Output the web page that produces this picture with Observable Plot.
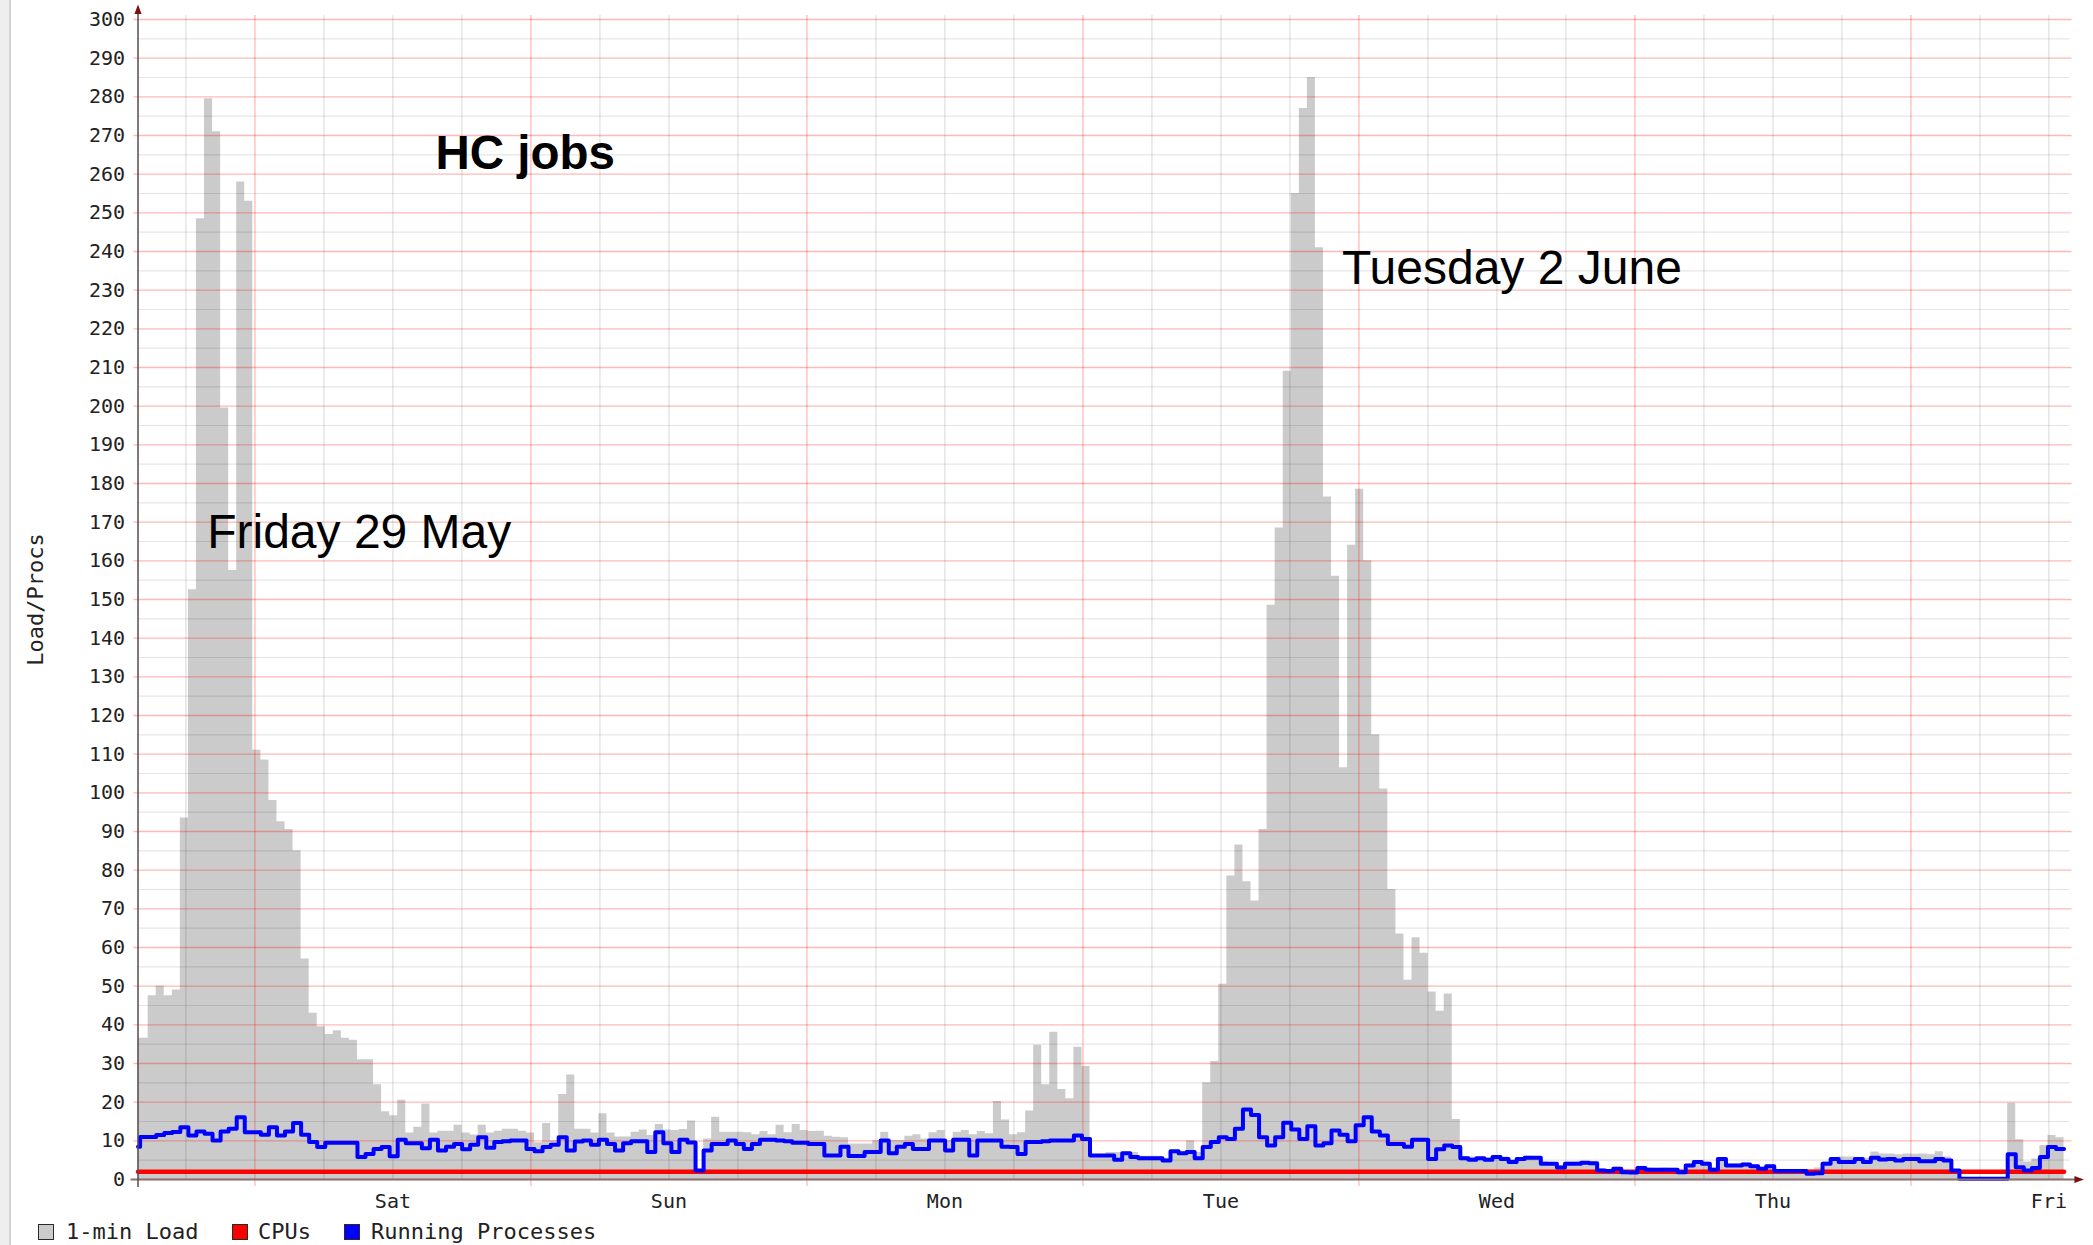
<!DOCTYPE html>
<html>
<head>
<meta charset="utf-8">
<script src="https://cdn.jsdelivr.net/npm/d3@7"></script>
<script src="https://cdn.jsdelivr.net/npm/@observablehq/plot@0.6"></script>
<style>
  html, body { margin: 0; padding: 0; background: #fff; }
  #wrap { position: relative; width: 2093px; height: 1245px; overflow: hidden; background: #fff; }
  #strip { position: absolute; left: 0; top: 0; width: 9px; height: 1245px; background: #eeeeee; border-right: 2px solid #d4d4d4; z-index: 2; }
  #chart { position: absolute; left: 0; top: 0; }
  #legend { position: absolute; left: 0; top: 1218px; width: 2093px; height: 27px;
            font-family: "DejaVu Sans Mono", monospace; font-size: 22px; color: #222; }
  .sw { position: absolute; top: 6px; width: 14px; height: 14px; border: 1.5px solid #2a2a2a; }
  .lt { position: absolute; top: 0; line-height: 28px; white-space: pre; }
</style>
</head>
<body>
<div id="wrap">
  <div id="strip"></div>
  <div id="chart"></div>
  <div id="legend"></div>
</div>
<script>
// ---------------- data ----------------
// One value per 42-minute RRD slot; the first entry is the partial slot at the left edge.
const load1min = [
  36.5, 36.5, 47.5, 50, 47.5, 49, 93.5, 152.5, 248.5, 279.5,
  271, 199.5, 157.5, 258, 253, 111, 108.5, 98, 92.5, 90.5,
  85, 57, 43, 39.5, 37.5, 38.5, 36.5, 36, 31, 31,
  24.5, 17.5, 16.5, 20.5, 12, 13.5, 19.5, 12, 12.5, 12.5,
  14, 12, 11.5, 14, 12, 12.5, 13, 13, 12.5, 12,
  9.5, 14.5, 10, 22, 27, 13, 13, 12, 17, 12,
  11, 11, 12.2, 12.8, 11.4, 14.2, 12.8, 12.7, 12.9, 15.1,
  2.5, 10.5, 16.1, 12.2, 12.2, 12.2, 12.1, 11.6, 12.4, 11.6,
  14, 12.1, 14.2, 12.7, 12.4, 12.5, 11.2, 10.9, 10.8, 9.2,
  9.2, 9.2, 10, 12.2, 10.1, 10.1, 11.2, 11.6, 10.5, 12.1,
  12.7, 10.1, 12.2, 12.7, 11.6, 12.4, 11.8, 20.2, 15.4, 11.6,
  12.1, 17.7, 34.7, 24.5, 38.1, 23.3, 20.9, 34.2, 29.2, 6,
  6, 7, 7, 7.2, 7, 6, 6, 6, 5.5, 7.5,
  7.2, 10, 7, 25, 30.5, 50.5, 78.5, 86.5, 77, 72,
  90.5, 148.5, 168.5, 209, 255, 277, 285, 241, 176.5, 156,
  106.5, 164, 178.5, 160, 115, 101, 75, 63.5, 51.5, 62.5,
  58.5, 48.5, 43.5, 48, 15.5, 6, 5.8, 5.8, 5.6, 6,
  5.8, 5.2, 5.6, 6, 5.8, 4.6, 4.4, 3.6, 4.5, 4.5,
  4.6, 4.5, 2.8, 2.6, 3.2, 2.4, 2.2, 3.4, 3, 2.9,
  3, 2.9, 2.4, 4, 4.9, 4.5, 3, 5.7, 4, 4,
  4.3, 3.8, 3.2, 3.8, 2.5, 2.4, 2.4, 2.4, 2.5, 3,
  4.5, 5.5, 5.8, 5.8, 5.5, 5.5, 7.1, 6.6, 6.6, 6.4,
  6.6, 6.5, 6.6, 6.4, 7.2, 5.8, 2.5, 0.5, 0.5, 0.5,
  0.5, 0.5, 0.5, 19.7, 10.3, 4.5, 5.3, 8.8, 11.4, 10.8
];
const runningProcs = [
  8.5, 11, 11, 11.5, 12, 12.3, 13.5, 11.4, 12.4, 11.8,
  10.1, 12.4, 13.1, 16.1, 12.2, 12.2, 11.6, 13.5, 11.4, 12.4,
  14.6, 11.6, 9.7, 8.4, 9.5, 9.5, 9.5, 9.5, 5.8, 6.6,
  7.9, 8.4, 6, 10.3, 9.4, 9.4, 8.1, 10.3, 7.5, 8.5,
  9.2, 7.8, 9, 10.9, 8.2, 9.7, 9.9, 10.1, 10.1, 7.9,
  7.3, 8.4, 9, 10.9, 7.5, 9.8, 10.1, 9, 10.3, 9.2,
  7.5, 9.4, 9.9, 9.9, 7.1, 12.2, 9.4, 7.1, 10.3, 9.6,
  2.3, 7.5, 9.2, 9.2, 10.1, 9.2, 7.9, 9.2, 10.3, 10.3,
  10.1, 9.9, 9.5, 9.5, 9.2, 9.2, 6.2, 6.2, 8.5, 6.1,
  6.1, 7.1, 7.1, 10.1, 6.8, 8.5, 9.2, 7.9, 7.9, 10.1,
  10.1, 7.5, 10.3, 10.3, 6.2, 10.1, 10.1, 10.1, 8.5, 8.4,
  6.6, 9.7, 9.7, 9.9, 10.1, 10.1, 10.1, 11.4, 10.5, 6.2,
  6.2, 6.2, 5.1, 6.8, 5.8, 5.5, 5.5, 5.5, 4.9, 7.3,
  6.8, 7.1, 5.5, 8.4, 9.7, 10.9, 10.5, 13.1, 18.1, 16.7,
  10.9, 8.8, 10.9, 14.7, 12.9, 10.5, 13.8, 8.8, 9.4, 12.7,
  11.6, 9.9, 14, 16.1, 12.4, 11.4, 9.2, 9.2, 8.5, 10.3,
  10.3, 5.3, 7.8, 8.8, 8.4, 5.5, 5.1, 5.5, 5.1, 5.8,
  5.3, 4.5, 5.3, 5.6, 5.6, 4.1, 4.1, 3.1, 4.1, 4.1,
  4.3, 4.2, 2.3, 2.2, 2.8, 1.9, 1.8, 3, 2.5, 2.5,
  2.5, 2.5, 1.9, 3.6, 4.5, 4.1, 2.5, 5.3, 3.6, 3.6,
  3.9, 3.4, 2.8, 3.4, 2.2, 2.2, 2.2, 2.2, 1.5, 1.6,
  4.1, 5.3, 4.5, 4.5, 5.3, 4.5, 5.6, 5.2, 5.3, 4.9,
  5.3, 5.3, 4.7, 4.7, 5.3, 4.9, 2.3, 0.2, 0.2, 0.2,
  0.2, 0.2, 0.2, 6.5, 3.2, 2.3, 3, 5.8, 8.4, 7.9
];
const cpuCount = [
  2,2,2,2,2,2,2,2,2,2, 2,2,2,2,2,2,2,2,2,2, 2,2,2,2,2,2,2,2,2,2,
  2,2,2,2,2,2,2,2,2,2, 2,2,2,2,2,2,2,2,2,2, 2,2,2,2,2,2,2,2,2,2,
  2,2,2,2,2,2,2,2,2,2, 2,2,2,2,2,2,2,2,2,2, 2,2,2,2,2,2,2,2,2,2,
  2,2,2,2,2,2,2,2,2,2, 2,2,2,2,2,2,2,2,2,2, 2,2,2,2,2,2,2,2,2,2,
  2,2,2,2,2,2,2,2,2,2, 2,2,2,2,2,2,2,2,2,2, 2,2,2,2,2,2,2,2,2,2,
  2,2,2,2,2,2,2,2,2,2, 2,2,2,2,2,2,2,2,2,2, 2,2,2,2,2,2,2,2,2,2,
  2,2,2,2,2,2,2,2,2,2, 2,2,2,2,2,2,2,2,2,2, 2,2,2,2,2,2,2,2,2,2,
  2,2,2,2,2,2,2,2,2,2, 2,2,2,2,2,2,2,2,2,2, 2,2,2,2,2,2,2,2,2,2
];
const dayLabels = ["Sat", "Sun", "Mon", "Tue", "Wed", "Thu", "Fri"];
const yTickValues = [0,10,20,30,40,50,60,70,80,90,100,110,120,130,140,150,160,170,180,190,200,210,220,230,240,250,260,270,280,290,300];
const annotationLabels = ["Friday 29 May", "HC jobs", "Tuesday 2 June"];
const annotationTimes = ["2015-05-29T07:51:00Z", "2015-05-30T03:42:00Z", "2015-06-02T10:32:00Z"];
const annotationValues = [163.4, 261.3, 231.6];
const legendLabels = ["1-min Load", "CPUs", "Running Processes"];
const yTitle = "Load/Procs";

// ---------------- time frame ----------------
const domainStart = new Date("2015-05-29T01:50:00Z");
const domainEnd = new Date("2015-06-05T01:50:00Z");
const firstSlot = new Date("2015-05-29T02:01:00Z");
const slotMs = 42 * 60 * 1000;

const table = load1min.map((v, i) => ({
  t: i === 0 ? domainStart : new Date(+firstSlot + (i - 1) * slotMs),
  load: v, procs: runningProcs[i], cpus: cpuCount[i]
}));
const lastRow = table[table.length - 1];
table.push({...lastRow, t: new Date(+firstSlot + (load1min.length - 1) * slotMs)});

const midnights = d3.utcDay.range(domainStart, domainEnd);
const sixHours = d3.utcHour.every(6).range(domainStart, domainEnd);
const noonLines = sixHours.filter(d => d.getUTCHours() === 12);
const otherLines = sixHours.filter(d => d.getUTCHours() !== 12);
const yMinor = yTickValues.slice(0, -1).map(v => v + 5);
const notes = annotationLabels.map((label, i) => ({label, t: new Date(annotationTimes[i]), v: annotationValues[i]}));

const triUp = {draw(ctx, size) { const s = Math.sqrt(size) * 0.75; ctx.moveTo(0, -s); ctx.lineTo(-s * 0.6, s * 0.6); ctx.lineTo(s * 0.6, s * 0.6); ctx.closePath(); }};
const triRight = {draw(ctx, size) { const s = Math.sqrt(size) * 0.75; ctx.moveTo(s, 0); ctx.lineTo(-s * 0.6, -s * 0.6); ctx.lineTo(-s * 0.6, s * 0.6); ctx.closePath(); }};

const sansFont = "'Liberation Sans', Arial, Helvetica, sans-serif";
const monoFont = "'DejaVu Sans Mono', monospace";

const chart = Plot.plot({
  width: 2093,
  height: 1215,
  marginLeft: 137.5,
  marginRight: 23.5,
  marginTop: 19,
  marginBottom: 36,
  style: {fontFamily: monoFont, fontSize: "20px", color: "#222", background: "transparent", overflow: "visible"},
  x: {type: "utc", domain: [domainStart, domainEnd], ticks: midnights,
      tickFormat: (d, i) => dayLabels[i], tickSize: 0, tickPadding: 14, label: null},
  y: {domain: [0, 300], ticks: yTickValues, tickSize: 0, tickPadding: 13, label: null},
  marks: [
    Plot.areaY(table, {x: "t", y: "load", curve: "step-after", fill: "#cbcbcb"}),
    Plot.ruleY(yMinor, {stroke: "#000", strokeOpacity: 0.1, strokeWidth: 1.2}),
    Plot.ruleX(otherLines, {stroke: "#000", strokeOpacity: 0.13, strokeWidth: 1.2, insetTop: -4}),
    Plot.ruleY(yTickValues, {stroke: "#ff0000", strokeOpacity: 0.28, strokeWidth: 1.3, insetLeft: -4, insetRight: -2}),
    Plot.ruleX(noonLines, {stroke: "#ff0000", strokeOpacity: 0.28, strokeWidth: 1.3, insetTop: -4, insetBottom: -7}),
    Plot.line(table, {x: "t", y: "cpus", curve: "step-after", stroke: "#ff0000", strokeWidth: 4.5}),
    Plot.line(table, {x: "t", y: "procs", curve: "step-after", stroke: "#0000ff", strokeWidth: 4}),
    Plot.ruleY([0], {stroke: "#857373", strokeWidth: 2.2, insetLeft: -7, insetRight: -8}),
    Plot.ruleX([domainStart], {stroke: "#5a4a4a", strokeWidth: 1.5, insetTop: -10, insetBottom: -8}),
    Plot.dot([0], {frameAnchor: "top-left", symbol: triUp, r: 4.5, fill: "#7a1010", stroke: null, dy: -9}),
    Plot.dot([0], {frameAnchor: "bottom-right", symbol: triRight, r: 4.5, fill: "#7a1010", stroke: null, dx: 8}),
    Plot.text([yTitle], {frameAnchor: "left", text: d => d, rotate: -90, dx: -102, fontSize: 22, fill: "#222", textAnchor: "middle"}),
    Plot.text(notes.filter(d => d.label === "HC jobs"), {x: "t", y: "v", text: "label", textAnchor: "start", lineAnchor: "bottom",
      fontFamily: sansFont, fontWeight: "bold", fontSize: 47.5, fill: "#000"}),
    Plot.text(notes.filter(d => d.label !== "HC jobs"), {x: "t", y: "v", text: "label", textAnchor: "start", lineAnchor: "bottom",
      fontFamily: sansFont, fontSize: 48, fill: "#000"})
  ]
});
document.getElementById("chart").appendChild(chart);

// ---------------- legend ----------------
const legendColors = ["#cbcbcb", "#ff0000", "#0000ff"];
const swatchLeft = [38, 232, 344];
const textLeft = [66, 258, 371];
const legend = document.getElementById("legend");
legendLabels.forEach((label, i) => {
  const sw = document.createElement("div");
  sw.className = "sw";
  sw.style.left = swatchLeft[i] + "px";
  sw.style.background = legendColors[i];
  legend.appendChild(sw);
  const tx = document.createElement("div");
  tx.className = "lt";
  tx.style.left = textLeft[i] + "px";
  tx.textContent = label;
  legend.appendChild(tx);
});
</script>
</body>
</html>
